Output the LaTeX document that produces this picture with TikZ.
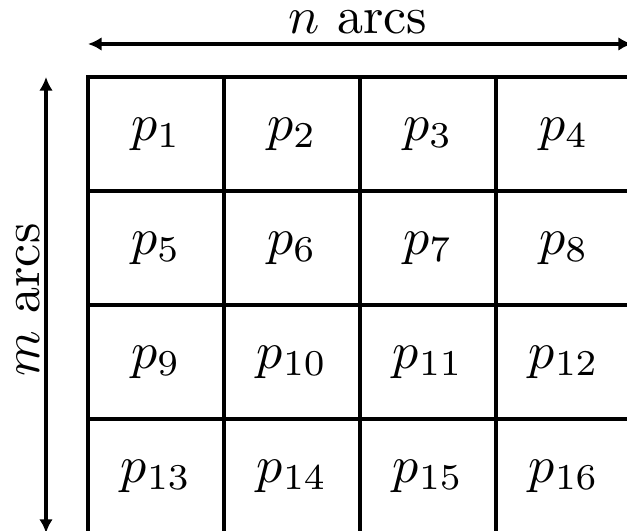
\documentclass[tikz,border=0pt]{standalone}
\usetikzlibrary{arrows.meta}
\begin{document}
\begin{tikzpicture}[x=0.1923pt,y=-0.1923pt,
  cell/.style={draw,line width=0.77pt,minimum width=26.15pt,minimum height=21.92pt,inner sep=0pt,anchor=center},
  dimarrow/.style={line width=0.77pt,{Latex[length=2.6pt,width=2.6pt]}-{Latex[length=2.6pt,width=2.6pt]}},
  dimlabel/.style={inner sep=0pt}]
\useasboundingbox (0,0) rectangle (627,531);
\clip (0,0) rectangle (627,531);
\foreach \r [count=\ri from 0] in {134,248,362,476}{
  \foreach \c [count=\ci from 1] in {156,292,428,564}{
    \pgfmathtruncatemacro{\k}{\ri*4+\ci}
    \node[cell] (c\k) at (\c,\r) {$p_{\k}$};
  }
}
\coordinate (tl) at (88,44);
\coordinate (tr) at (632,44);
\coordinate (lt) at (46,77);
\coordinate (lb) at (46,533);
\draw[dimarrow] (tl) -- (tr);
\draw[dimarrow] (lt) -- (lb);
\node[dimlabel] (ntext) at (358,22) {$n$ arcs};
\node[dimlabel,rotate=90] (mtext) at (28,300) {$m$ arcs};
\end{tikzpicture}
\end{document}
